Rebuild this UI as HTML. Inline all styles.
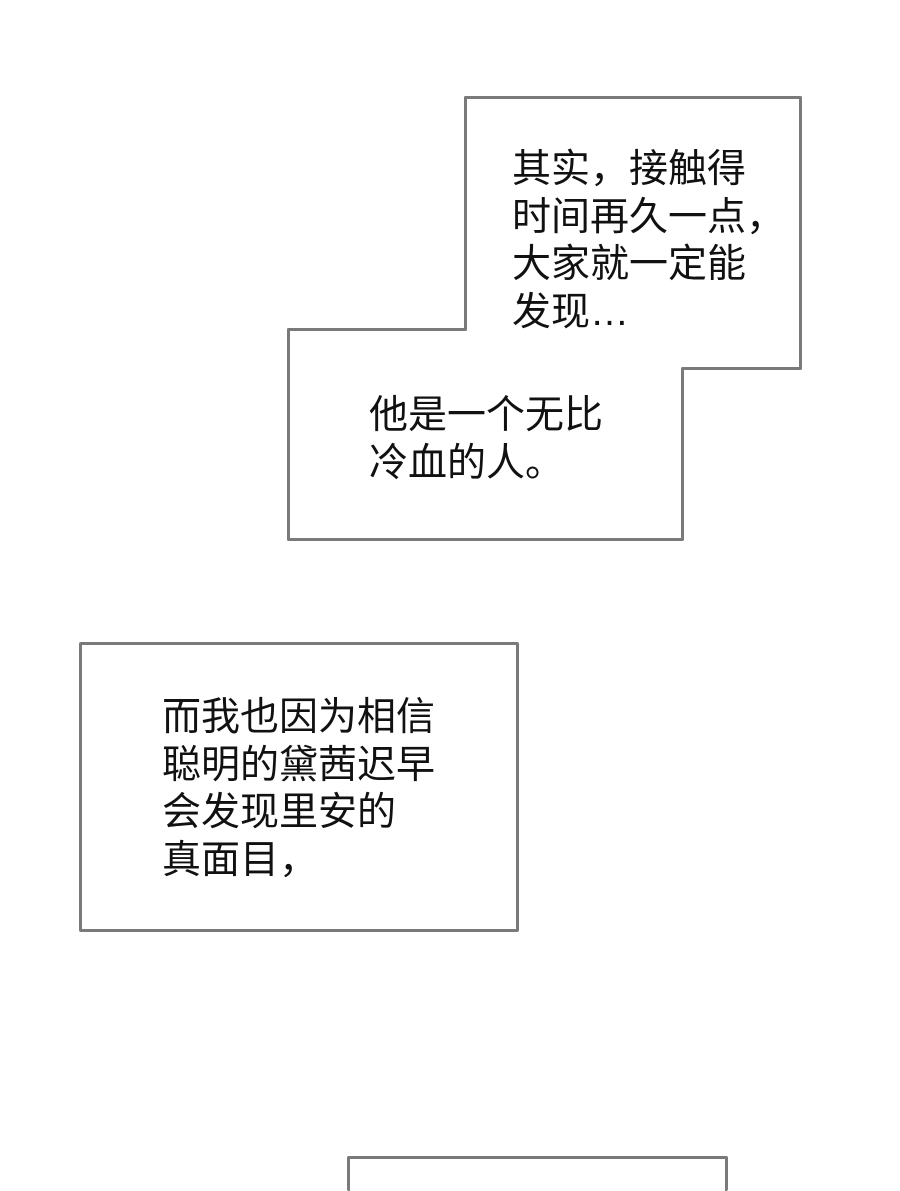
<!DOCTYPE html>
<html style="margin:0;width:900px;height:1191px;overflow:hidden"><head><meta charset="utf-8"><style>
body{margin:0;width:900px;height:1191px;background:#fff;position:relative;overflow:hidden;font-family:"Liberation Sans","Noto Sans CJK SC",sans-serif;}
.b{position:absolute;background:#fff;border:3px solid #7a7a7a;border-radius:2px;box-sizing:border-box;}
.t{position:absolute;font-size:39px;line-height:47.5px;color:#111;white-space:nowrap;}
</style></head><body>
<svg style="position:absolute;left:0;top:0" width="900" height="600">
<polygon points="465.5,97.5 800.5,97.5 800.5,368.5 682.5,368.5 682.5,539.5 288.5,539.5 288.5,329.5 465.5,329.5" fill="#fff" stroke="#7a7a7a" stroke-width="3" stroke-linejoin="round"/>
</svg>
<div class="t" style="left:512px;top:146px">其实，接触得<br>时间再久一点，<br>大家就一定能<br>发现…</div>
<div class="t" style="left:369px;top:392px">他是一个无比<br>冷血的人。</div>
<div class="b" style="left:79px;top:642px;width:440px;height:290px"></div>
<div class="t" style="left:162px;top:694px">而我也因为相信<br>聪明的黛茜迟早<br>会发现里安的<br>真面目，</div>
<div class="b" style="left:347px;top:1156px;width:381px;height:35px;border-bottom:none"></div>
</body></html>
